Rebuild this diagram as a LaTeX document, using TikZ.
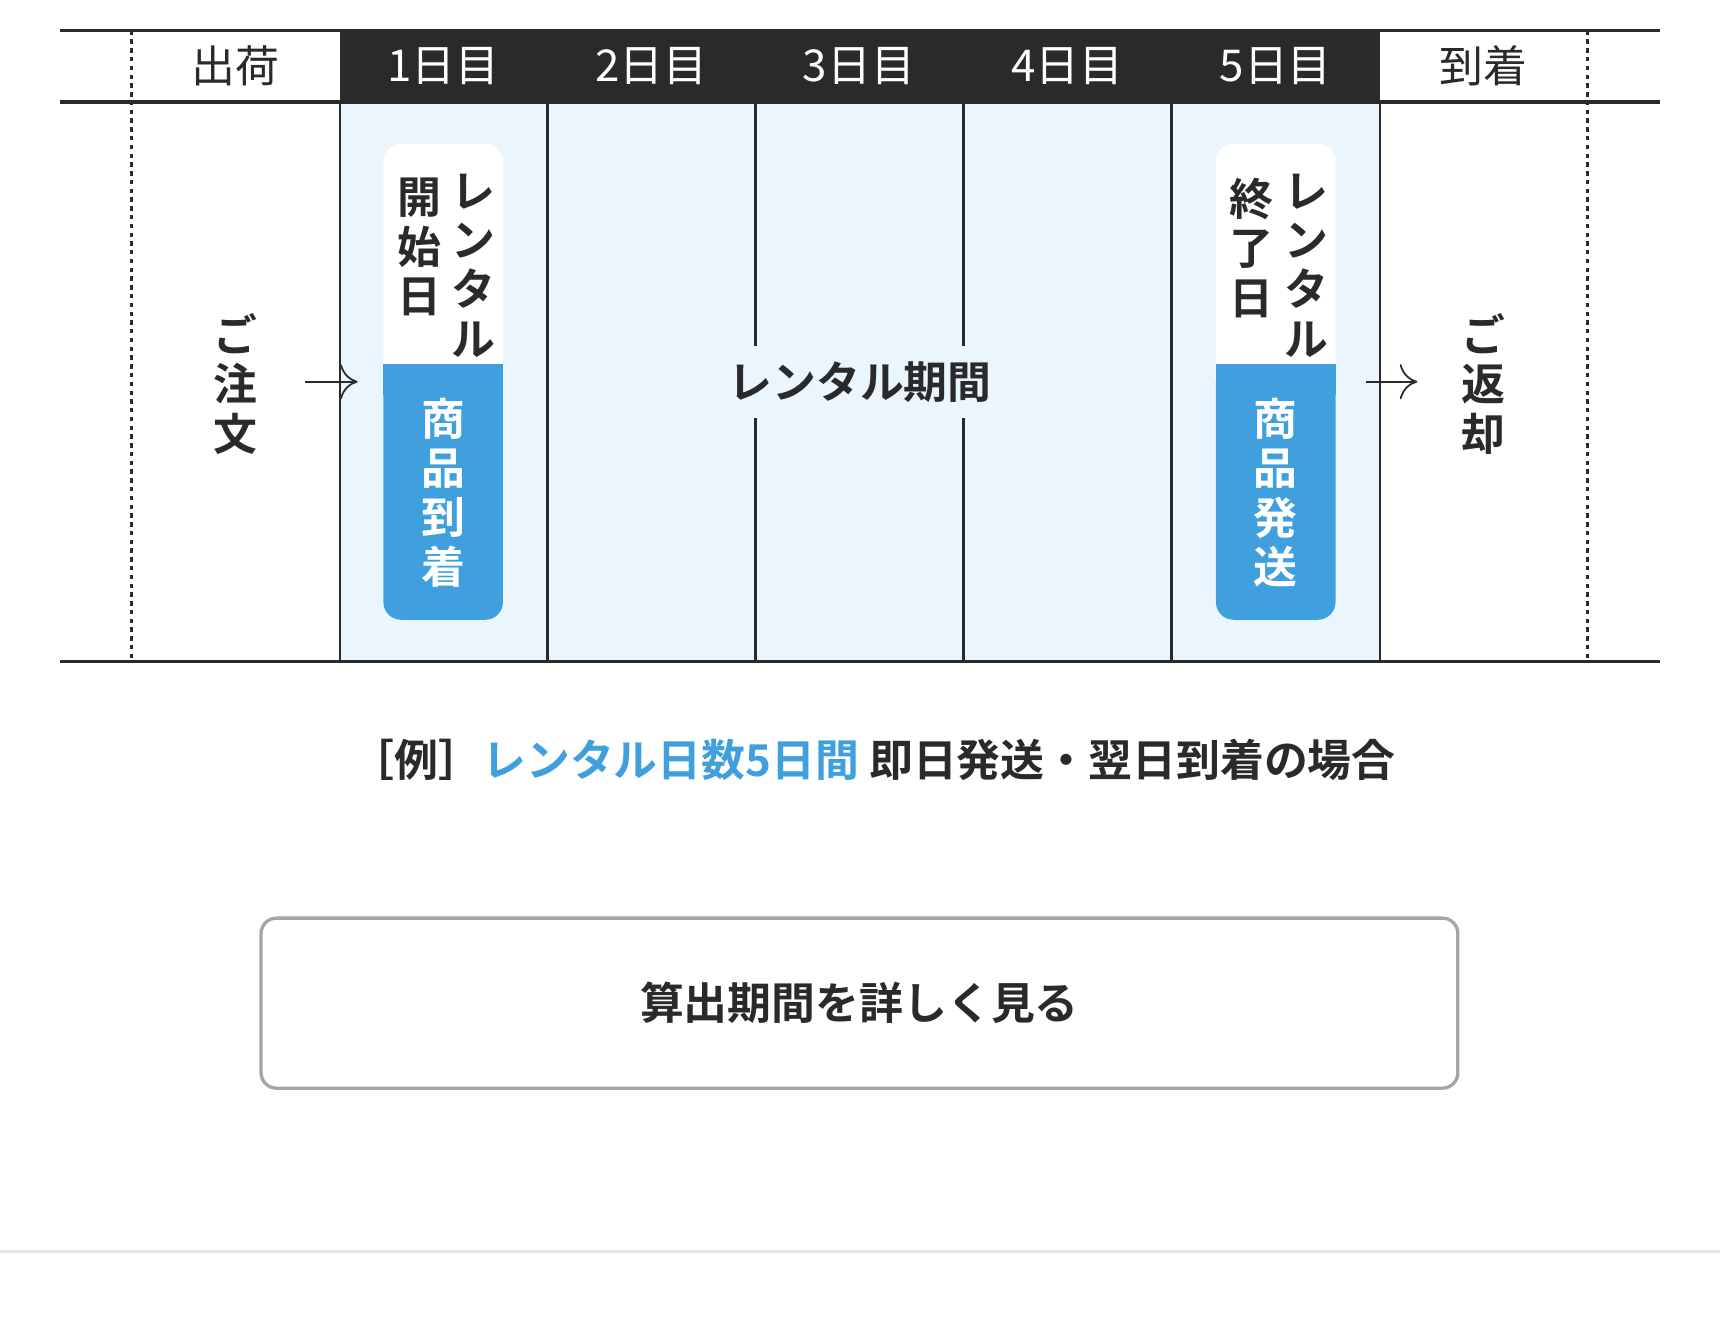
\documentclass[tikz,border=0pt]{standalone}
\usepackage{fontspec}
\setmainfont{Noto Sans CJK JP}
\newfontfamily\jpb{Noto Sans CJK JP Bold}
\usetikzlibrary{arrows.meta}
\definecolor{ink}{HTML}{2A2A2A}
\definecolor{pale}{HTML}{EBF5FD}
\definecolor{accent}{HTML}{3FA0DD}
\definecolor{btn}{HTML}{A5A5A5}
\definecolor{rule}{HTML}{E6E6E6}
\tikzset{
  hdr/.style={font=\fontsize{20}{20}\selectfont, text=ink},
  vtxt/.style={font=\jpb\fontsize{20}{22.5}\selectfont, align=center, text=ink, inner sep=0pt},
  daysep/.style={draw=ink, line width=1.3pt},
  dotsep/.style={draw=ink, line width=1.2pt, dash pattern=on 2pt off 2pt},
  hline/.style={draw=ink, line width=1.6pt},
  arr/.style={draw=ink, line width=0.8pt, -{To[length=8pt,width=16pt]}}
}
\begin{document}
\begin{tikzpicture}[x=0.5pt,y=-0.5pt]
\useasboundingbox (0,0) rectangle (1568,1202);
\fill[white] (0,0) rectangle (1568,1202);
% fills
\fill[pale] (310,93) rectangle (1258,603);
\fill[ink] (310,28) rectangle (1258,93);
% lines
\draw[hline] (55,28) -- (1513,28);
\draw[hline] (55,93) -- (1513,93);
\draw[hline] (55,603) -- (1513,603);
\draw[dotsep] (120,28) -- (120,603);
\draw[dotsep] (1447,28) -- (1447,603);
\foreach \x in {310,499,1068,1258} \draw[daysep] (\x,93) -- (\x,603);
\foreach \x in {689,878} {\draw[daysep] (\x,93) -- (\x,315); \draw[daysep] (\x,381) -- (\x,603);}
% headers
\node[hdr] (h0) at (215,60) {出荷};
\node[hdr,text=white] (h1) at (404,60) {1日目};
\node[hdr,text=white] (h2) at (594,60) {2日目};
\node[hdr,text=white] (h3) at (783,60) {3日目};
\node[hdr,text=white] (h4) at (973,60) {4日目};
\node[hdr,text=white] (h5) at (1163,60) {5日目};
\node[hdr] (h6) at (1352,60) {到着};
% cards
\foreach \cx/\nm in {404/a,1163/b} {
  \fill[white,rounded corners=8pt] (\cx-54.5,131) rectangle (\cx+54.5,565);
  \fill[accent,rounded corners=8pt] (\cx-54.5,332) rectangle (\cx+54.5,565);
  \fill[accent] (\cx-54.5,332) rectangle (\cx+54.5,360);
}
\node[vtxt,anchor=north] (s1) at (432,158) {レ\\ン\\タ\\ル};
\node[vtxt,anchor=north] (s2) at (382,162) {開\\始\\日};
\node[vtxt,text=white] (s3) at (404,449) {商\\品\\到\\着};
\node[vtxt,anchor=north] (e1) at (1191,158) {レ\\ン\\タ\\ル};
\node[vtxt,anchor=north] (e2) at (1141,162) {終\\了\\日};
\node[vtxt,text=white] (e3) at (1163,449) {商\\品\\発\\送};
\node[vtxt] (order) at (215,350) {ご\\注\\文};
\node[vtxt] (ret) at (1352,350) {ご\\返\\却};
\node[vtxt] (period) at (784,348) {レンタル期間};
\coordinate (a0) at (278,348); \coordinate (a1) at (326,348);
\coordinate (b0) at (1245,348); \coordinate (b1) at (1292,348);
\draw[arr] (a0) -- (a1);
\draw[arr] (b0) -- (b1);
% caption
\node[font=\jpb\fontsize{20}{20}\selectfont, text=ink] (cap) at (796,693) {［例］\textcolor{accent}{レンタル日数5日間} 即日発送・翌日到着の場合};
% button
\node[draw=btn, line width=1.5pt, rounded corners=7pt, minimum width=545.5pt, minimum height=77.5pt, font=\jpb\fontsize{20}{20}\selectfont, text=ink] (button) at (783.5,914.5) {算出期間を詳しく見る};
\draw[rule, line width=1.5pt] (0,1141) -- (1568,1141);
\end{tikzpicture}
\end{document}
